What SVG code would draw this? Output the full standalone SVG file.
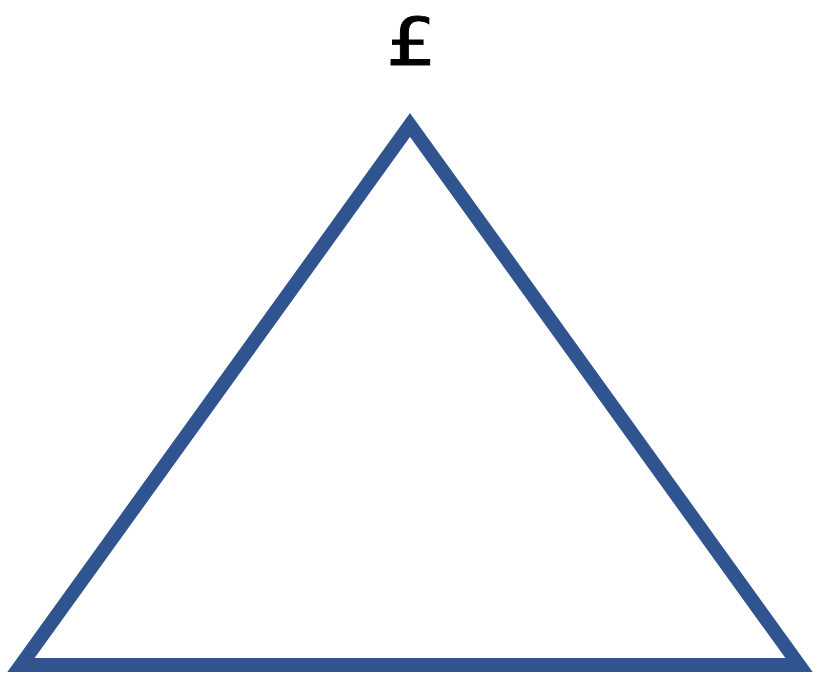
<svg xmlns="http://www.w3.org/2000/svg" width="818" height="676" viewBox="0 0 818 676">
<style>
.tri{fill:none;stroke:#2f5490;stroke-width:14;stroke-linejoin:miter;stroke-miterlimit:10}
.lbl{font-family:"DejaVu Sans Mono","Liberation Mono",monospace;font-size:66px;fill:#000;stroke:#000;stroke-width:0.8}
</style>
<g id="triangle">
<path class="tri" d="M410,125 L799,665 L21,665 Z"/>
</g>
<g id="label">
<text class="lbl" x="385.5" y="65" textLength="49" lengthAdjust="spacingAndGlyphs">£</text>
</g>
<g id="connectors"></g>
</svg>
